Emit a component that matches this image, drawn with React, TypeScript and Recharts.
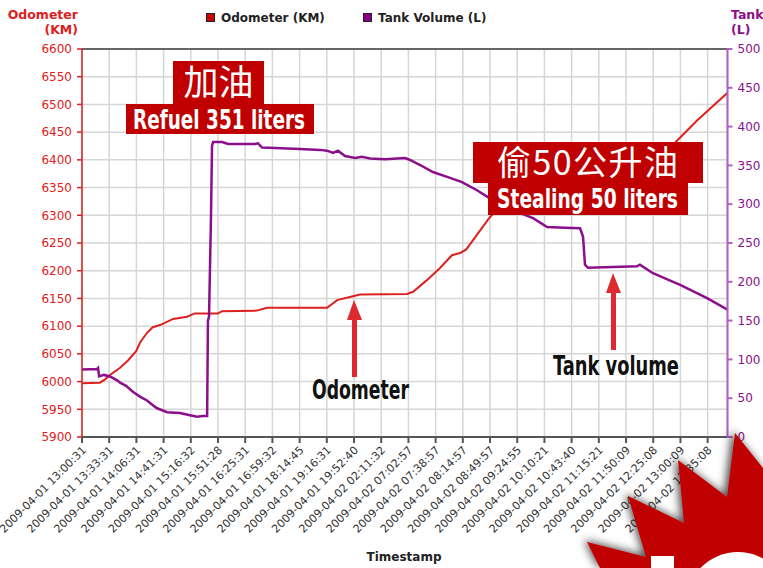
import React from 'react'
import { CartesianGrid, Line, LineChart, ReferenceLine, XAxis, YAxis } from 'recharts'

// x tick labels (category timestamps), one per grid column
const timeLabels = [
    '2009-04-01 13:00:31', '2009-04-01 13:33:31', '2009-04-01 14:06:31', '2009-04-01 14:41:31',
    '2009-04-01 15:16:32', '2009-04-01 15:51:28', '2009-04-01 16:25:31', '2009-04-01 16:59:32',
    '2009-04-01 18:14:45', '2009-04-01 19:16:31', '2009-04-01 19:52:40', '2009-04-02 02:11:32',
    '2009-04-02 07:02:57', '2009-04-02 07:38:57', '2009-04-02 08:14:57', '2009-04-02 08:49:57',
    '2009-04-02 09:24:55', '2009-04-02 10:10:21', '2009-04-02 10:43:40', '2009-04-02 11:15:21',
    '2009-04-02 11:50:09', '2009-04-02 12:25:08', '2009-04-02 13:00:09', '2009-04-02 13:35:08',
]

const odoTicks = [5900, 5950, 6000, 6050, 6100, 6150, 6200, 6250, 6300, 6350, 6400, 6450, 6500, 6550, 6600]
const tankTicks = [0, 50, 100, 150, 200, 250, 300, 350, 400, 450, 500]

// odometer samples: position in label steps, km
const odoT = [0, 0.66, 0.85, 1.03, 1.4, 1.69, 1.99, 2.13, 2.39, 2.6, 2.87, 3.35, 3.86, 4.15, 5.0, 5.15, 6.43, 6.8,
    9.01, 9.38, 9.96, 10.22, 11.95, 12.17, 12.68, 13.16, 13.6, 13.9, 14.12, 15.0, 15.37, 16.1, 17.02, 21.25, 21.88, 22.61, 23.73]
const odoKm = [5997, 5998, 6004, 6012, 6025, 6038, 6055, 6070, 6088, 6098, 6102, 6113, 6117, 6123, 6123, 6127, 6128, 6133,
    6133, 6147, 6154, 6157, 6158, 6162, 6183, 6205, 6228, 6232, 6238, 6297, 6315, 6350, 6400, 6403, 6435, 6471, 6521]

// tank volume samples: position in label steps, litres
const tankT = [0, 0.55, 0.59, 0.63, 0.81, 1.03, 1.29, 1.4, 1.62, 1.88, 2.13, 2.39, 2.57, 2.76, 3.13, 3.6, 3.97, 4.23, 4.45,
    4.6, 4.63, 4.67, 4.74, 4.78, 4.82, 5.15, 5.37, 6.36, 6.47, 6.62, 7.1, 8.01, 8.75, 9.01, 9.23, 9.41, 9.67, 10.04, 10.29,
    10.59, 11.14, 11.88, 12.06, 12.43, 12.9, 13.53, 13.97, 14.52, 15.11, 16.0, 16.58, 17.1, 17.76, 18.31, 18.42, 18.49,
    18.6, 19.52, 20.4, 20.51, 20.99, 21.73, 21.99, 22.98, 23.73]
const tankL = [87, 87.5, 89, 78, 80, 78, 73, 70, 66, 58, 52, 47, 42, 37, 32, 31, 28, 26, 27,
    27, 150, 155, 280, 375, 380, 380, 377.5, 377.5, 378.5, 373, 372.5, 371, 370, 369, 366, 369, 362, 359.5, 361,
    359, 358, 359.5, 357, 350.5, 341.5, 334, 328.5, 318, 305, 290, 282, 270.5, 269.5, 269, 258, 222,
    218, 219, 220, 222, 211, 200, 196, 179, 164]

const odoData = odoT.map((t, i) => ({ t, km: odoKm[i] }))
const tankData = tankT.map((t, i) => ({ t, vol: tankL[i] }))

const RED = '#dd2020'
const PURPLE = '#8b0f8b'
const BOX = '#c00000'
const ARROW = '#dd2a30'

const XTick = ({ x, y, payload }: any) => {
    const ax = x + 2
    const ay = y + 3
    return (
        <text x={ax} y={ay} dy={4} transform={`rotate(-45 ${ax} ${ay})`} textAnchor="end"
            fontSize={11} fontFamily="DejaVu Sans" fill="#333">
            {timeLabels[payload.value]}
        </text>
    )
}

const narrow = '"Liberation Sans Narrow", "DejaVu Sans Condensed", sans-serif'
const cjk = '"Noto Sans CJK SC", "Noto Sans CJK TC", sans-serif'

const Overlay = () => (
    <svg width={763} height={568} style={{ position: 'absolute', left: 0, top: 0, pointerEvents: 'none' }}>
        <defs>
            <filter id="shade" x="-20%" y="-20%" width="140%" height="140%">
                <feDropShadow dx={-3} dy={-2} stdDeviation={4} floodColor="#000" floodOpacity={0.7} />
            </filter>
        </defs>
        {/* axis titles */}
        <g fontFamily="DejaVu Sans" fontWeight="bold" fontSize={12.5}>
            <text x={78} y={19} textAnchor="end" fill={RED}>Odometer</text>
            <text x={78} y={34} textAnchor="end" fill={RED}>(KM)</text>
            <text x={731} y={19} fill={PURPLE}>Tank Volume</text>
            <text x={731} y={34} fill={PURPLE}>(L)</text>
            <text x={404} y={561} textAnchor="middle" fill="#222" fontSize={12}>Timestamp</text>
        </g>
        {/* legend */}
        <g fontFamily="DejaVu Sans" fontWeight="bold" fontSize={12} fill="#222">
            <rect x={206.5} y={13.5} width={8} height={8} fill="#cc0000" stroke="#222" />
            <text x={221} y={22}>Odometer (KM)</text>
            <rect x={363.5} y={13.5} width={8} height={8} fill="#8b008b" stroke="#222" />
            <text x={378} y={22}>Tank Volume (L)</text>
        </g>
        {/* refuel note */}
        <rect x={173} y={61} width={91} height={44} fill={BOX} />
        <text x={218.5} y={95} textAnchor="middle" fontFamily={cjk} fontSize={35} fill="#fff">加油</text>
        <rect x={126} y={104} width={188} height={30} fill={BOX} />
        <text x={133} y={129} textLength={172} lengthAdjust="spacingAndGlyphs" fontFamily={narrow}
            fontWeight="bold" fontSize={27} fill="#fff">Refuel 351 liters</text>
        {/* stealing note */}
        <rect x={473} y={142} width={230} height={41} fill={BOX} />
        <text x={497} y={175} textLength={181} fontFamily={cjk} fontSize={34} fill="#fff">偷50公升油</text>
        <rect x={488} y={183} width={200} height={32} fill={BOX} />
        <text x={497} y={208} textLength={181} lengthAdjust="spacingAndGlyphs" fontFamily={narrow}
            fontWeight="bold" fontSize={26} fill="#fff">Stealing 50 liters</text>
        {/* arrows */}
        <polygon points="354,300 347,320 362,320" fill={ARROW} />
        <rect x={352} y={319} width={5} height={58} fill={ARROW} />
        <text x={312} y={399} textLength={97} lengthAdjust="spacingAndGlyphs" fontFamily={narrow}
            fontWeight="bold" fontSize={26} fill="#111">Odometer</text>
        <polygon points="613,273 606,293 621,293" fill={ARROW} />
        <rect x={611} y={292} width={5} height={58} fill={ARROW} />
        <text x={553} y={375} textLength={126} lengthAdjust="spacingAndGlyphs" fontFamily={narrow}
            fontWeight="bold" fontSize={26} fill="#111">Tank volume</text>
        {/* corner logo */}
        <g filter="url(#shade)">
            <polygon points="600,568 587,542 646,557 628,496 684,523 678,460 727,497 735,433 763,468 763,568" fill="#c00000" />
        </g>
        <rect x={651} y={556} width={23} height={12} fill="#fff" />
        <circle cx={738} cy={604} r={52} fill="#fff" />
    </svg>
)

export default function App() {
    return (
        <div style={{ position: 'absolute', left: 0, top: 0, width: 763, height: 568, background: '#fff', overflow: 'hidden' }}>
            <LineChart width={763} height={568} margin={{ top: 49, right: 0, bottom: 0, left: 22 }}>
                <CartesianGrid yAxisId="left" stroke="#d6d6d6" strokeWidth={1.5} />
                <XAxis dataKey="t" type="number" domain={[0, 23.73]} ticks={timeLabels.map((_, i) => i)}
                    allowDataOverflow height={131} tickSize={6} tickMargin={2} interval={0}
                    stroke="#555" strokeWidth={2} tick={<XTick />} />
                <YAxis yAxisId="left" orientation="left" width={60} domain={[5900, 6600]} ticks={odoTicks}
                    interval={0} tickSize={5} tickMargin={5} stroke={RED} strokeWidth={1.5}
                    tick={{ fill: RED, fontSize: 12, fontFamily: 'DejaVu Sans' }} />
                <YAxis yAxisId="right" orientation="right" width={35.5} domain={[0, 500]} ticks={tankTicks}
                    interval={0} tickSize={5} tickMargin={5} stroke="#b25ec6" strokeWidth={2}
                    tick={{ fill: PURPLE, fontSize: 12, fontFamily: 'DejaVu Sans', textAnchor: 'start' }} />
                <ReferenceLine yAxisId="left" y={6600} stroke="#666" strokeWidth={2} />
                <Line yAxisId="left" data={odoData} dataKey="km" type="linear" stroke={RED} strokeWidth={2}
                    dot={false} isAnimationActive={false} />
                <Line yAxisId="right" data={tankData} dataKey="vol" type="linear" stroke={PURPLE} strokeWidth={2.5}
                    dot={false} isAnimationActive={false} />
            </LineChart>
            <Overlay />
        </div>
    )
}
